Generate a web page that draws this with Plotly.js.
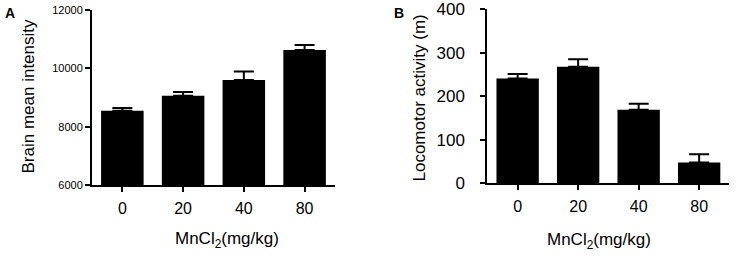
<!DOCTYPE html>
<html>
<head>
<meta charset="utf-8">
<script src="https://cdn.plot.ly/plotly-3.0.1.min.js"></script>
<style>html,body{margin:0;padding:0;background:#fff;}#chart{width:737px;height:256px;}</style>
</head>
<body>
<div id="chart"></div>
<script>
// Data
const doses = ["0", "20", "40", "80"];
const brainMean = [8550, 9060, 9600, 10630];
const brainSem = [90, 130, 290, 170];
const locoMean = [241, 268, 169, 48];
const locoSem = [10, 17, 14, 19];
const yTicksA = [6000, 8000, 10000, 12000];
const yTicksB = [0, 100, 200, 300, 400];

const FONT = "Liberation Sans, Arial, Helvetica, sans-serif";

function barTrace(y, err, xa, ya) {
  return {
    type: "bar", x: doses, y: y, xaxis: xa, yaxis: ya,
    marker: {color: "#000", line: {width: 0}},
    error_y: {type: "data", symmetric: false, array: err, arrayminus: err.map(() => 0),
              color: "#000", thickness: 2, width: 10},
    hoverinfo: "skip", showlegend: false
  };
}

const axisBase = {
  showgrid: false, zeroline: false, showline: true, linecolor: "#000", linewidth: 2,
  ticks: "outside", ticklen: 5, tickwidth: 2, tickcolor: "#000", fixedrange: true
};

const layout = {
  width: 737, height: 256,
  margin: {l: 0, r: 0, t: 0, b: 0},
  paper_bgcolor: "#fff", plot_bgcolor: "#fff",
  font: {family: FONT, color: "#000"},
  bargap: 0.3,
  xaxis: Object.assign({}, axisBase, {domain: [0.1248, 0.4545], anchor: "y", type: "category",
    range: [-0.5, 3.5], tickfont: {size: 16, family: FONT}, ticklabelstandoff: 3}),
  yaxis: Object.assign({}, axisBase, {domain: [0.2773, 0.9609], anchor: "x", range: [6000, 12000],
    tickvals: yTicksA, ticktext: yTicksA.map(String), tickfont: {size: 11, family: FONT}}),
  xaxis2: Object.assign({}, axisBase, {domain: [0.6613, 0.9897], anchor: "y2", type: "category",
    range: [-0.5, 3.5], tickfont: {size: 16, family: FONT}, ticklabelstandoff: 3}),
  yaxis2: Object.assign({}, axisBase, {domain: [0.2840, 0.9637], anchor: "x2", range: [0, 400],
    tickvals: yTicksB, ticktext: yTicksB.map(String), tickfont: {size: 17, family: FONT},
    ticklabelstandoff: 12}),
  annotations: [
    {text: "<b>A</b>", xref: "paper", yref: "paper", x: 3/737, y: 1 - 3/256, xanchor: "left", yanchor: "top",
     showarrow: false, font: {size: 14, family: FONT}},
    {text: "<b>B</b>", xref: "paper", yref: "paper", x: 392/737, y: 1 - 3/256, xanchor: "left", yanchor: "top",
     showarrow: false, font: {size: 14, family: FONT}},
    {text: "MnCl<sub>2</sub>(mg/kg)", xref: "paper", yref: "paper", x: 227/737, y: 16/256,
     xanchor: "center", yanchor: "middle", showarrow: false, font: {size: 17, family: FONT}},
    {text: "MnCl<sub>2</sub>(mg/kg)", xref: "paper", yref: "paper", x: 599/737, y: 15/256,
     xanchor: "center", yanchor: "middle", showarrow: false, font: {size: 17, family: FONT}},
    {text: "Brain mean intensity", xref: "paper", yref: "paper", x: 28/737, y: (256 - 96.5)/256,
     xanchor: "center", yanchor: "middle", textangle: -90, showarrow: false, font: {size: 17, family: FONT}},
    {text: "Locomotor activity (m)", xref: "paper", yref: "paper", x: 419/737, y: (256 - 98.5)/256,
     xanchor: "center", yanchor: "middle", textangle: -90, showarrow: false, font: {size: 17, family: FONT}}
  ]
};

Plotly.newPlot("chart", [
  barTrace(brainMean, brainSem, "x", "y"),
  barTrace(locoMean, locoSem, "x2", "y2")
], layout, {staticPlot: true, displayModeBar: false});
</script>
</body>
</html>
